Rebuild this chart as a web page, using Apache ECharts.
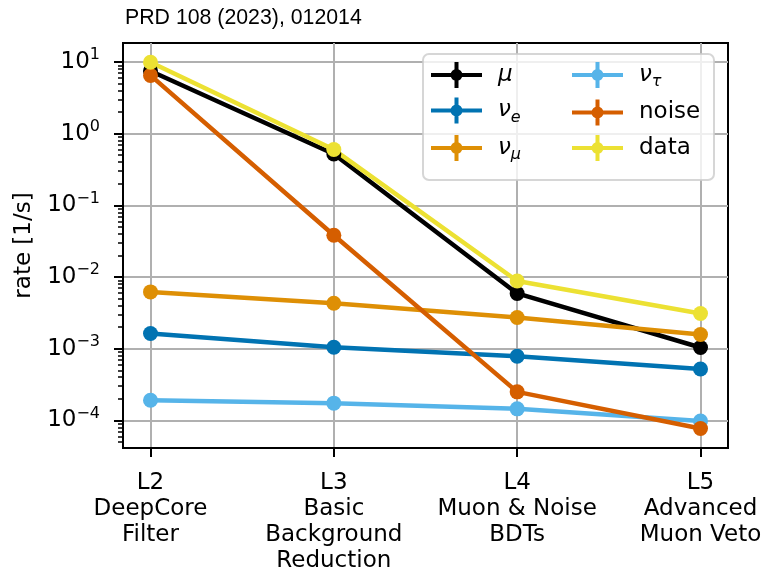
<!DOCTYPE html>
<html>
<head>
<meta charset="utf-8">
<script src="https://cdn.jsdelivr.net/npm/echarts@6/dist/echarts.min.js"></script>
<style>
  html, body { margin: 0; padding: 0; background: #fff; }
  #chart { width: 770px; height: 569px; }
</style>
</head>
<body>
<div id="chart"></div>
<script>
// Processing levels of the event selection
const stageLabels = [
  'L2\nDeepCore\nFilter',
  'L3\nBasic\nBackground\nReduction',
  'L4\nMuon & Noise\nBDTs',
  'L5\nAdvanced\nMuon Veto'
];
const stagePos = [0, 1, 2, 3];

// Rates per level [1/s]
const muonRate  = [7.5, 0.52, 5.9e-3, 1.04e-3];
const nueRate   = [1.63e-3, 1.05e-3, 7.85e-4, 5.22e-4];
const numuRate  = [6.2e-3, 4.3e-3, 2.72e-3, 1.58e-3];
const nutauRate = [1.91e-4, 1.74e-4, 1.45e-4, 9.8e-5];
const noiseRate = [6.5, 0.0383, 2.5e-4, 7.7e-5];
const dataRate  = [9.9, 0.60, 8.8e-3, 3.1e-3];

// Decade ticks on the rate axis
const yMajorTicks = [1e-4, 1e-3, 1e-2, 1e-1, 1, 10];

const yMin = 4.12e-5, yMax = 18.4;
const xMin = -0.15, xMax = 3.15;

// minor log ticks (2..9 x decade) inside the axis range
const yMinorTicks = [];
for (let e = -5; e <= 1; e++) {
  for (let m = 2; m <= 9; m++) {
    const v = m * Math.pow(10, e);
    if (v >= yMin && v <= yMax) yMinorTicks.push(v);
  }
}

const FONT = 'DejaVu Sans';
const legendIcon = 'path://M0,11H51V15H0Z M23.5,0H27.5V26H23.5Z M19.5,13a6,6 0 1,1 12,0a6,6 0 1,1 -12,0Z';

const seriesDefs = [
  { name: 'mu',    label: '{sp|}{i|μ}',            color: '#000000', values: muonRate },
  { name: 'nue',   label: '{sp|}{i|ν}{sub|e}',     color: '#0173B2', values: nueRate },
  { name: 'numu',  label: '{sp|}{i|ν}{sub|μ}',     color: '#DE8F05', values: numuRate },
  { name: 'nutau', label: '{sp|}{i|ν}{sub|τ}',     color: '#56B4E9', values: nutauRate },
  { name: 'noise', label: '{sp|}{t|noise}',        color: '#D55E00', values: noiseRate },
  { name: 'data',  label: '{sp|}{t|data}',         color: '#ECE133', values: dataRate }
];
const labelOf = {};
seriesDefs.forEach(s => { labelOf[s.name] = s.label; });

const legendRich = {
  sp:  { width: 11 },
  i:   { fontFamily: FONT, fontStyle: 'italic', fontSize: 23, lineHeight: 30, color: '#000' },
  t:   { fontFamily: FONT, fontSize: 23, lineHeight: 30, color: '#000' },
  sub: { fontFamily: FONT, fontStyle: 'italic', fontSize: 16, lineHeight: 16, verticalAlign: 'bottom', color: '#000' }
};

function makeLegend(names, left) {
  return {
    data: names.map(n => ({ name: n, icon: legendIcon })),
    orient: 'vertical',
    left: left,
    top: 62,
    padding: 0,
    itemWidth: 51,
    itemHeight: 26,
    itemGap: 9.5,
    selectedMode: false,
    z: 20,
    formatter: n => labelOf[n],
    textStyle: { rich: legendRich, fontFamily: FONT, fontSize: 23, color: '#000' }
  };
}

const option = {
  animation: false,
  backgroundColor: '#fff',
  title: {
    text: 'PRD 108 (2023), 012014',
    left: 125,
    top: 8,
    padding: 0,
    textStyle: { fontFamily: 'Liberation Sans', fontSize: 21.3, fontWeight: 'normal', color: '#000' }
  },
  grid: {
    left: 123, right: 42, top: 43, bottom: 121,
    containLabel: false,
    outerBoundsMode: 'none',
    show: true, borderColor: '#000', borderWidth: 2, backgroundColor: 'transparent'
  },
  graphic: [{
    type: 'rect',
    z: 15,
    shape: { x: 423, y: 54, width: 291, height: 126, r: 6 },
    style: { fill: 'rgba(255,255,255,0.8)', stroke: 'rgba(204,204,204,0.8)', lineWidth: 2 }
  }],
  legend: [
    makeLegend(['mu', 'nue', 'numu'], 431),
    makeLegend(['nutau', 'noise', 'data'], 572)
  ],
  xAxis: {
    type: 'value',
    min: xMin, max: xMax,
    axisLine: { show: true, onZero: false, lineStyle: { color: '#000', width: 2 } },
    axisTick: { show: true, length: 9, lineStyle: { color: '#000', width: 2 }, customValues: stagePos },
    axisLabel: {
      customValues: stagePos,
      margin: 22,
      fontFamily: FONT, fontSize: 23, lineHeight: 26, color: '#000',
      formatter: v => stageLabels[Math.round(v)]
    },
    splitLine: { show: true, lineStyle: { color: '#b0b0b0', width: 2 } }
  },
  yAxis: [{
    type: 'log',
    min: yMin, max: yMax,
    name: 'rate [1/s]',
    nameLocation: 'middle',
    nameRotate: 90,
    nameGap: 87,
    nameTextStyle: { fontFamily: FONT, fontSize: 23, color: '#000' },
    axisLine: { show: true, onZero: false, lineStyle: { color: '#000', width: 2 } },
    axisTick: { show: true, length: 9, lineStyle: { color: '#000', width: 2 }, customValues: yMajorTicks },
    axisLabel: {
      customValues: yMajorTicks,
      margin: 23,
      formatter: v => {
        const e = Math.round(Math.log10(v));
        return '{b|10}{s|' + String(e).replace('-', '\u2212') + '}';
      },
      rich: {
        b: { fontFamily: FONT, fontSize: 23, lineHeight: 30, color: '#000' },
        s: { fontFamily: FONT, fontSize: 16, lineHeight: 16, verticalAlign: 'top', color: '#000' }
      }
    },
    splitLine: { show: true, lineStyle: { color: '#b0b0b0', width: 2 } }
  }, {
    type: 'log',
    min: yMin, max: yMax,
    position: 'left',
    axisLine: { show: false, onZero: false },
    axisTick: { show: true, length: 5, lineStyle: { color: '#000', width: 1.5 }, customValues: yMinorTicks },
    axisLabel: { show: false },
    splitLine: { show: false }
  }],
  series: seriesDefs.map(s => ({
    name: s.name,
    type: 'line',
    yAxisIndex: 0,
    data: stagePos.map((x, i) => [x, s.values[i]]),
    symbol: 'circle',
    symbolSize: 15,
    showAllSymbol: true,
    color: s.color,
    itemStyle: { color: s.color },
    lineStyle: { color: s.color, width: 4.5 },
    emphasis: { disabled: true },
    z: 3
  }))
};

const chart = echarts.init(document.getElementById('chart'), null, { renderer: 'canvas' });
chart.setOption(option);
</script>
</body>
</html>
